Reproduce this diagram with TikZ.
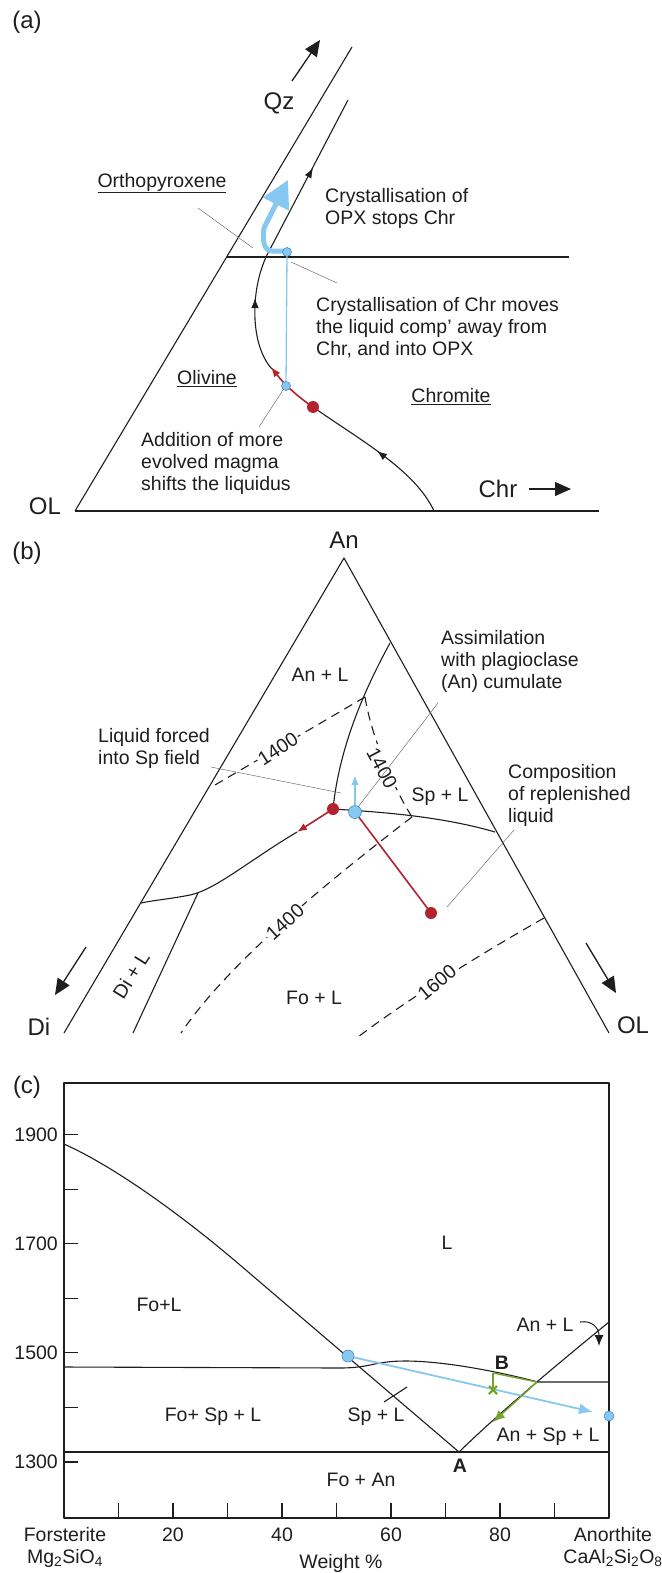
\documentclass[tikz,border=0pt]{standalone}
\usepackage{fontspec}
\setmainfont{Liberation Sans}
\usetikzlibrary{arrows.meta}
\definecolor{lblue}{RGB}{135,200,240}
\definecolor{dblue}{RGB}{70,140,195}
\definecolor{dred}{RGB}{178,35,45}
\definecolor{lgreen}{RGB}{118,165,45}
\definecolor{txt}{RGB}{30,30,30}
\definecolor{leadc}{RGB}{110,110,110}
\begin{document}
\begin{tikzpicture}[x=1pt,y=-1pt, line join=round,
  every node/.style={inner sep=0pt, text=txt},
  lbl/.style={font=\fontsize{19.5}{22}\selectfont},
  big/.style={font=\fontsize{24}{28}\selectfont},
  bline/.style={draw=txt, line width=1.1pt},
  leader/.style={draw=leadc, line width=0.5pt},
  dsh/.style={draw=txt, line width=1.1pt, dash pattern=on 9pt off 6pt},
  arrowA/.style={-{Latex[length=10pt,width=7.5pt]}},
  bigtip/.style={-{Triangle[length=16pt,width=14pt]}},
  isolbl/.style={lbl, fill=white, inner sep=1.5pt},
]
\useasboundingbox (0,0) rectangle (661,1573);

% ================= panel (a)
\node[big] (la) at (27,22) {(a)};
\draw[bigtip, line width=1.3pt, draw=txt, fill=txt] (292,81) -- (320,40);
\node[big] (qz) at (279,103) {Qz};
\draw[bline] (75,511) -- (352,47);
\draw[bline] (75,511) -- (599,511);
\draw[bline] (227,257) -- (569,257);
% boundary curve
\draw[bline] (348,100) -- (267,255) .. controls (250,290) and (250,345) .. (272,369);
\draw[bline, arrowA] (308,177) -- (313,168);
\draw[bline, arrowA] (255,308) -- (255,298);
\draw[bline] (313,407) .. controls (360,440) and (415,470) .. (434,511);
\draw[bline, arrowA] (385,457) -- (377,451);
% red part
\draw[dred, line width=1.6pt, arrowA] (313,407) .. controls (298,397) and (284,384) .. (271,367);
\fill[dred] (313,407) circle (6);
% blue
\draw[lblue, line width=1.3pt] (287,252) -- (286,386);
\draw[lblue, line width=5pt, -{Triangle[length=27pt,width=28pt]}] (283,251) -- (272,251) .. controls (264,251) and (262,240) .. (264,228) -- (288,180);
\filldraw[fill=lblue, draw=dblue, line width=0.6pt] (287,252) circle (4.5);
\filldraw[fill=lblue, draw=dblue, line width=0.6pt] (286,386) circle (4.5);
% leaders
\draw[leader] (198,208) -- (253,248);
\draw[leader] (291,262) -- (337,283);
\draw[leader] (283,390) -- (259,427);
% texts
\node[lbl] (ortho) at (162,183) {\underline{Orthopyroxene}};
\node[lbl, anchor=west, align=left] (t1) at (325,208) {Crystallisation of\\OPX stops Chr};
\node[lbl, anchor=west, align=left] (t2) at (316,328) {Crystallisation of Chr moves\\the liquid comp’ away from\\Chr, and into OPX};
\node[lbl] (oliv) at (207,379) {\underline{Olivine}};
\node[lbl] (chro) at (451,397) {\underline{Chromite}};
\node[lbl, anchor=west, align=left] (t3) at (141,463) {Addition of more\\evolved magma\\shifts the liquidus};
\node[big] (chr) at (498,489) {Chr};
\draw[bigtip, line width=1.3pt, draw=txt, fill=txt] (529,489) -- (571,489);
\node[big] (ol) at (45,506) {OL};

% ================= panel (b)
\node[big] (lb) at (27,553) {(b)};
\node[big] (an) at (344,540) {An};
\draw[bline] (64,1033) -- (344,558) -- (609,1033);
% isotherms
\draw[dsh] (215,785) -- (365,697);
\draw[dsh] (365,697) .. controls (372,740) and (395,790) .. (412,817);
\draw[dsh] (412,817) .. controls (340,872) and (230,960) .. (181,1033);
\draw[dsh] (544,918) .. controls (470,960) and (400,1005) .. (358,1037);
\node[isolbl, rotate=33] (i1) at (278,749) {1400};
\node[isolbl, rotate=-62] (i2) at (382,768) {1400};
\node[isolbl, rotate=42] (i3) at (285,922) {1400};
\node[isolbl, rotate=40] (i4) at (437,982) {1600};
% field boundaries
\draw[bline] (390,643) .. controls (370,680) and (340,740) .. (333,809);
\draw[bline] (333,809) .. controls (380,812) and (440,816) .. (495,832);
\draw[bline] (297,832) .. controls (250,860) and (215,890) .. (190,895) .. controls (170,899) and (155,900) .. (141,903);
\draw[bline] (198,893) -- (133,1033);
% red / blue
\draw[dred, line width=1.6pt, arrowA] (333,809) -- (297,832);
\draw[dred, line width=1.6pt] (355,812) -- (431,913);
\draw[lblue, line width=1.6pt, arrowA] (355,805) -- (355,775);
\fill[dred] (333,809) circle (6);
\fill[dred] (431,913) circle (6);
\filldraw[fill=lblue, draw=dblue, line width=0.6pt] (355,812) circle (6.5);
% leaders
\draw[leader] (211,767) -- (341,793);
\draw[leader] (438,703) -- (358,807);
\draw[leader] (514,830) -- (447,907);
% labels
\node[lbl] (anl) at (320,675) {An + L};
\node[lbl] (spl) at (440,797) {Sp + L};
\node[lbl] (fol) at (314,998) {Fo + L};
\node[lbl, rotate=58] (dil) at (131,975) {Di + L};
\node[lbl, anchor=west, align=left] (t4) at (98,748) {Liquid forced\\into Sp field};
\node[lbl, anchor=west, align=left] (t5) at (441,661) {Assimilation\\with plagioclase\\(An) cumulate};
\node[lbl, anchor=west, align=left] (t6) at (508,795) {Composition\\of replenished\\liquid};
\node[big] (di) at (39,1027) {Di};
\node[big] (olb) at (633,1025) {OL};
\draw[bigtip, line width=1.3pt, draw=txt, fill=txt] (86,947) -- (55,995);
\draw[bigtip, line width=1.3pt, draw=txt, fill=txt] (586,943) -- (616,993);

% ================= panel (c)
\node[big] (lc) at (27,1087) {(c)};
\draw[bline] (64,1083) rectangle (609,1518);
\foreach \yy in {1462,1407.4,1352.8,1298.3,1243.7,1189.1,1134.5} \draw[bline] (64,\yy) -- (78,\yy);
\foreach \xx in {118.5,173,227.5,282,336.5,391,445.5,500,554.5} \draw[bline] (\xx,1518) -- (\xx,1503);
\node[lbl, anchor=east] (y13) at (58,1462) {1300};
\node[lbl, anchor=east] (y15) at (58,1352.8) {1500};
\node[lbl, anchor=east] (y17) at (58,1243.7) {1700};
\node[lbl, anchor=east] (y19) at (58,1134.5) {1900};
\node[lbl] (x20) at (173,1535) {20};
\node[lbl] (x40) at (282,1535) {40};
\node[lbl] (x60) at (391,1535) {60};
\node[lbl] (x80) at (500,1535) {80};
\node[lbl, align=center] (fo) at (65,1547) {Forsterite\\Mg\textsubscript{2}SiO\textsubscript{4}};
\node[lbl, align=center] (ano) at (613,1547) {Anorthite\\CaAl\textsubscript{2}Si\textsubscript{2}O\textsubscript{8}};
\node[lbl] (wt) at (341,1563) {Weight \%};
% curves
\draw[bline] (64,1144) .. controls (124,1171) and (198,1229) .. (240,1265) -- (459,1452);
\draw[bline] (459,1452) .. controls (500,1412) and (560,1362) .. (609,1322);
\draw[bline] (64,1367) -- (340,1368) .. controls (370,1368) and (375,1361) .. (405,1361) .. controls (445,1361) and (500,1372) .. (538,1382) -- (609,1382);
\draw[bline] (64,1452) -- (609,1452);
\draw[bline] (384,1402) -- (407,1387);
% blue
\draw[lblue, line width=1.8pt, -{Latex[length=14pt,width=11pt]}] (348,1356) -- (593,1412);
\filldraw[fill=lblue, draw=dblue, line width=0.6pt] (348,1356) circle (6);
\filldraw[fill=lblue, draw=dblue, line width=0.6pt] (609,1416) circle (5);
% green
\draw[lgreen, line width=1.4pt] (493,1373) -- (537,1382);
\draw[lgreen, line width=1.4pt, -{Latex[length=12pt,width=10pt]}] (537,1382) -- (493,1422);
\draw[lgreen, line width=1.4pt] (493,1373) -- (493,1390);
\draw[lgreen, line width=2.4pt] (489,1386) -- (497,1394) (489,1394) -- (497,1386);
% labels
\node[lbl, font=\fontsize{19.5}{22}\selectfont\bfseries] (bb) at (502,1363) {B};
\node[lbl, font=\fontsize{19.5}{22}\selectfont\bfseries] (aa) at (460,1466) {A};
\node[lbl] (anl2) at (545,1325) {An + L};
\draw[bline, line width=1pt, -{Latex[length=11pt,width=9pt]}] (580,1322) .. controls (592,1320) and (599,1328) .. (599,1346);
\node[lbl] (ansp) at (548,1437) {An + Sp + L};
\node[lbl] (spl2) at (376,1417) {Sp + L};
\node[lbl] (fospl) at (213,1417) {Fo+ Sp + L};
\node[lbl] (fol2) at (159,1305) {Fo+L};
\node[lbl] (foan) at (361,1480) {Fo + An};
\node[lbl] (ll) at (447,1243) {L};
\end{tikzpicture}
\end{document}
